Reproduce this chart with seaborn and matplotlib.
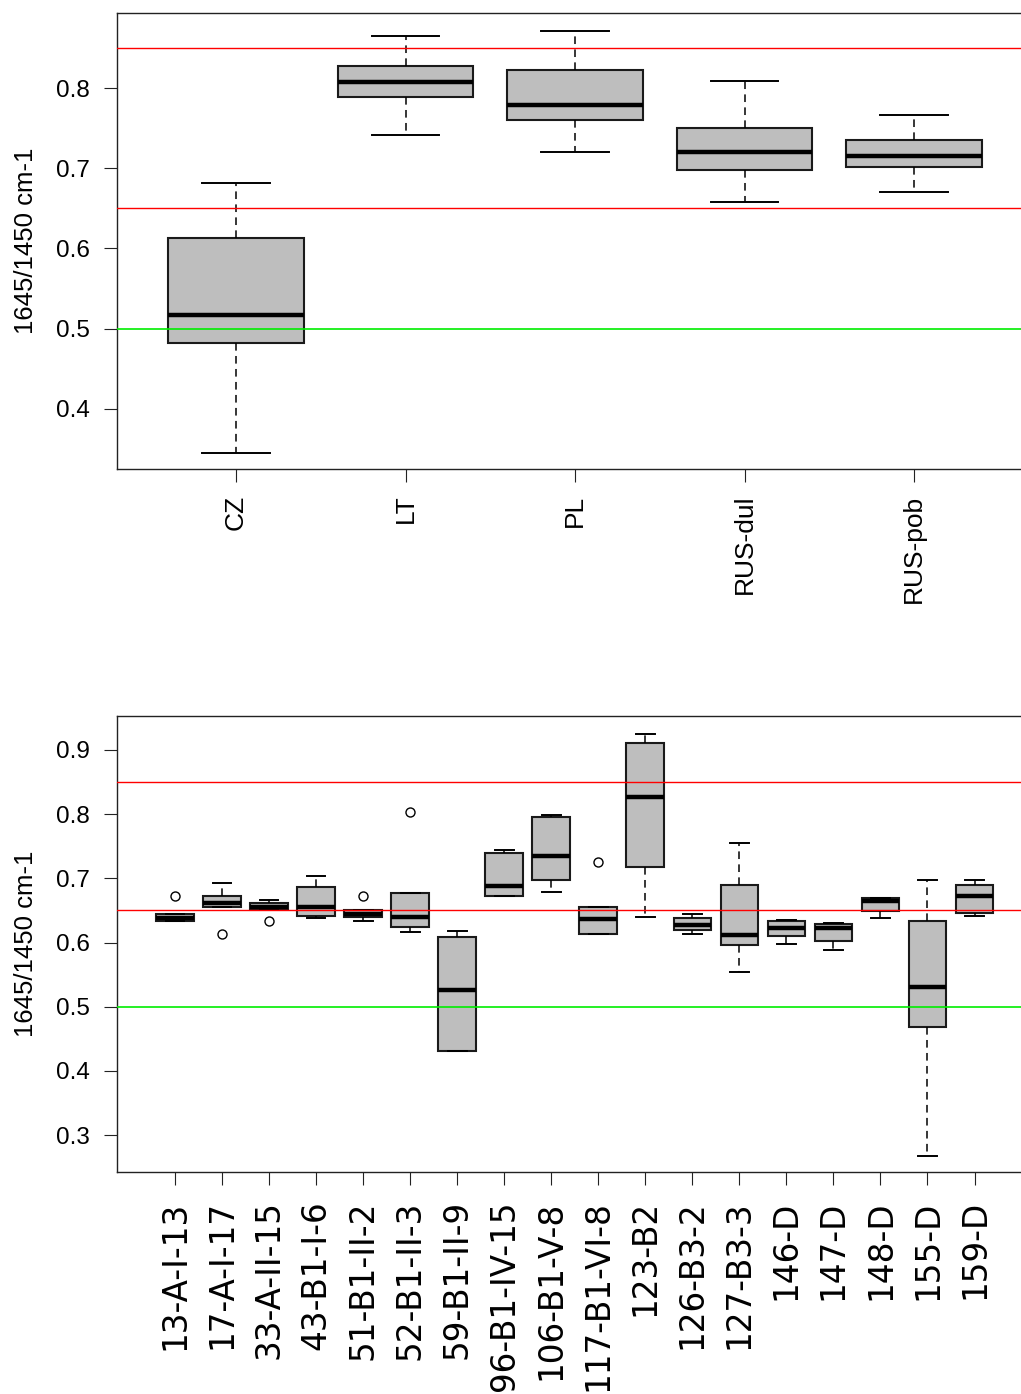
import matplotlib
matplotlib.use("Agg")
import matplotlib.pyplot as plt
import numpy as np
import pandas as pd
import seaborn as sns

# ---------------- data ----------------
top_categories = ["CZ", "LT", "PL", "RUS-dul", "RUS-pob"]
top_values = [
    [0.345, 0.482, 0.517, 0.613, 0.682],   # CZ
    [0.742, 0.789, 0.808, 0.828, 0.865],   # LT
    [0.721, 0.760, 0.779, 0.823, 0.872],   # PL
    [0.658, 0.698, 0.721, 0.751, 0.809],   # RUS-dul
    [0.670, 0.702, 0.716, 0.735, 0.767],   # RUS-pob
]
top_yticks = [0.4, 0.5, 0.6, 0.7, 0.8]

bottom_categories = ["13-A-I-13", "17-A-I-17", "33-A-II-15", "43-B1-I-6",
                     "51-B1-II-2", "52-B1-II-3", "59-B1-II-9", "96-B1-IV-15",
                     "106-B1-V-8", "117-B1-VI-8", "123-B2", "126-B3-2",
                     "127-B3-3", "146-D", "147-D", "148-D", "155-D", "159-D"]
bottom_values = [
    [0.633, 0.634, 0.638, 0.645, 0.673],
    [0.613, 0.656, 0.662, 0.673, 0.692],
    [0.633, 0.652, 0.655, 0.662, 0.666],
    [0.638, 0.641, 0.656, 0.686, 0.704],
    [0.633, 0.639, 0.644, 0.650, 0.673],
    [0.616, 0.624, 0.640, 0.677, 0.804],
    [0.431, 0.431, 0.526, 0.609, 0.618],
    [0.673, 0.673, 0.688, 0.739, 0.744],
    [0.679, 0.697, 0.735, 0.796, 0.799],
    [0.613, 0.613, 0.636, 0.655, 0.725],
    [0.640, 0.717, 0.826, 0.911, 0.925],
    [0.614, 0.620, 0.627, 0.638, 0.644],
    [0.554, 0.596, 0.612, 0.690, 0.755],
    [0.598, 0.610, 0.623, 0.633, 0.635],
    [0.589, 0.602, 0.623, 0.629, 0.631],
    [0.638, 0.649, 0.665, 0.669, 0.669],
    [0.267, 0.469, 0.530, 0.633, 0.697],
    [0.642, 0.646, 0.673, 0.690, 0.697],
]
bottom_yticks = [0.3, 0.4, 0.5, 0.6, 0.7, 0.8, 0.9]

red_levels = [0.85, 0.65]
green_levels = [0.5]
ylabel_text = "1645/1450 cm-1"


def long_df(cats, vals):
    return pd.DataFrame({"group": [c for c, v in zip(cats, vals) for _ in v],
                         "value": [x for v in vals for x in v]})


top_df = long_df(top_categories, top_values)
bottom_df = long_df(bottom_categories, bottom_values)

# ---------------- figure ----------------
W, H = 1021, 1394
fig = plt.figure(figsize=(W / 100, H / 100), dpi=100)
ax_left = 117 / W
ax_w = (1032 - 117) / W
ax1 = fig.add_axes([ax_left, 1 - 469 / H, ax_w, 456 / H])
ax2 = fig.add_axes([ax_left, 1 - 1172 / H, ax_w, 456 / H])

box_kw = dict(
    color="#BEBEBE", saturation=1, linecolor="#1a1a1a", linewidth=1.5,
    width=0.8, whis=1.5,
    medianprops=dict(color="black", linewidth=3.2),
    whiskerprops=dict(linestyle=(0, (5, 3.5)), linewidth=1.1, color="black"),
    capprops=dict(linewidth=1.4, color="black"),
    flierprops=dict(marker="o", markerfacecolor="none",
                    markeredgecolor="black", markersize=6.5,
                    markeredgewidth=1.0),
)

sns.boxplot(data=top_df, x="group", y="value", order=top_categories, ax=ax1, **box_kw)
sns.boxplot(data=bottom_df, x="group", y="value", order=bottom_categories, ax=ax2, **box_kw)

for ax in (ax1, ax2):
    for y in red_levels:
        ax.axhline(y, color="#FF0000", lw=1.0, zorder=6)
    for y in green_levels:
        ax.axhline(y, color="#00EE00", lw=1.2, zorder=6)

# axis limits
ax1.set_xlim((117 - 236) / 169.5, 4 + (1032 - 914) / 169.5)
ax1.set_ylim(0.8 - 380.7 / 800.8, 0.8 + 75.3 / 800.8)
ax2.set_xlim((117 - 175) / 47.03, (1032 - 175) / 47.03)
ax2.set_ylim(0.3 - 37 / 641.7, 0.9 + 34 / 641.7)

ax1.set_yticks(top_yticks)
ax1.set_yticklabels([f"{t:.1f}" for t in top_yticks])
ax2.set_yticks(bottom_yticks)
ax2.set_yticklabels([f"{t:.1f}" for t in bottom_yticks])

ax1.set_xticks(range(len(top_categories)))
ax1.set_xticklabels(top_categories, rotation=90, ha="center", va="top",
                    fontfamily="Liberation Sans", fontsize=19)
ax2.set_xticks(range(len(bottom_categories)))
ax2.set_xticklabels(bottom_categories, rotation=90, ha="center", va="top",
                    fontfamily="DejaVu Sans", fontsize=23.5)

for ax, xpad in ((ax1, 9), (ax2, 11)):
    ax.set_xlabel("")
    ax.set_ylabel(ylabel_text, fontfamily="Liberation Sans", fontsize=18.5)
    ax.yaxis.set_label_coords((38 - 117) / 915, 0.5)
    for lab in ax.get_yticklabels():
        lab.set_fontfamily("Liberation Sans")
        lab.set_fontsize(17.5)
    ax.tick_params(axis="y", direction="out", length=9.4, width=0.8,
                   color="#222222", pad=10)
    ax.tick_params(axis="x", direction="out", length=9.4, width=0.8,
                   color="#222222", pad=xpad)
    for sp in ax.spines.values():
        sp.set_linewidth(1.0)
        sp.set_color("#222222")
    ax.set_facecolor("white")
    ax.grid(False)

fig.savefig("out.png", dpi=100, facecolor="white")
